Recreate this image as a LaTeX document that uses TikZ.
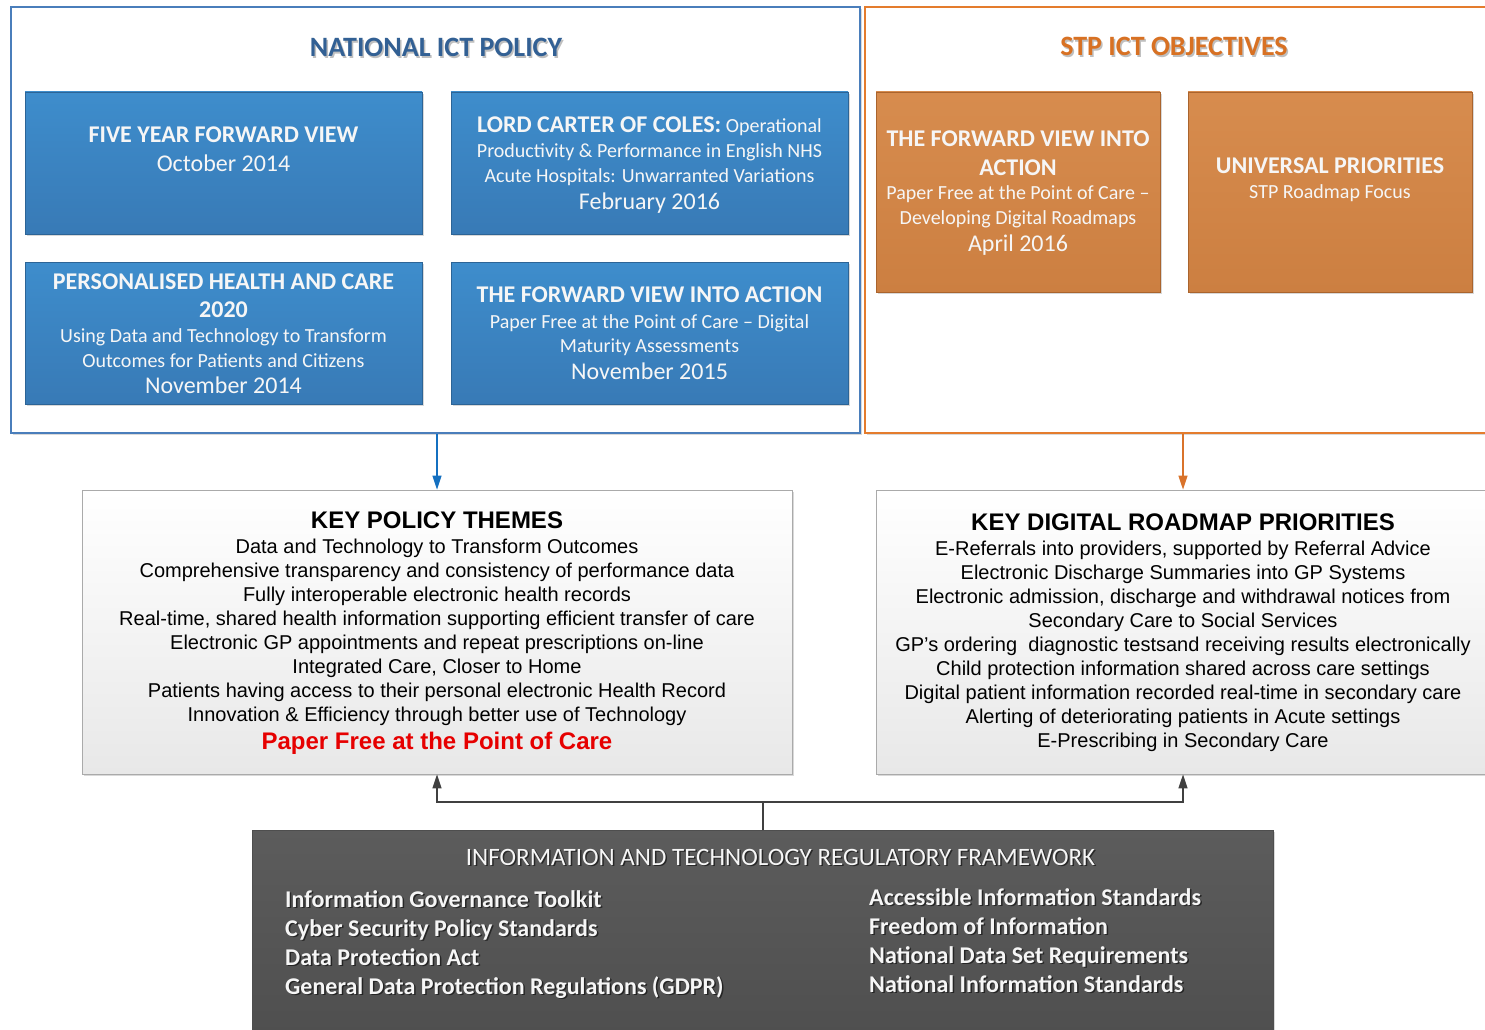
\documentclass[tikz,border=0pt]{standalone}
\usepackage{fontspec}
\setmainfont{Carlito}
\newfontfamily\arialfont{Liberation Sans}
\usetikzlibrary{arrows.meta,shadows}

\definecolor{natedge}{RGB}{74,126,187}
\definecolor{nattitle}{RGB}{50,96,148}
\definecolor{stpedge}{RGB}{228,124,45}
\definecolor{stptitle}{RGB}{216,113,35}
\definecolor{bluetop}{RGB}{62,141,204}
\definecolor{bluebot}{RGB}{56,122,182}
\definecolor{blueedge}{RGB}{44,100,150}
\definecolor{orgtop}{RGB}{215,140,78}
\definecolor{orgbot}{RGB}{204,127,65}
\definecolor{orgedge}{RGB}{170,100,45}
\definecolor{arrblue}{RGB}{20,112,192}
\definecolor{arrorange}{RGB}{217,115,43}
\definecolor{greyedge}{RGB}{170,170,170}
\definecolor{greybot}{RGB}{232,232,232}
\definecolor{darktop}{RGB}{92,92,92}
\definecolor{darkbot}{RGB}{78,78,78}
\definecolor{conn}{RGB}{64,64,64}
\definecolor{boxtext}{RGB}{246,246,246}
\definecolor{redtext}{RGB}{230,0,0}

\newcommand{\fs}[1]{\fontsize{#1}{#1}\selectfont}

\tikzset{
  softshadow/.style={drop shadow={shadow xshift=2pt, shadow yshift=-2pt, opacity=0.3}},
  panel/.style={draw, line width=1.8pt, fill=white, softshadow},
  bluebox/.style={draw=blueedge, line width=0.6pt, top color=bluetop, bottom color=bluebot, softshadow},
  orgbox/.style={draw=orgedge, line width=0.6pt, top color=orgtop, bottom color=orgbot, softshadow},
  greybox/.style={draw=greyedge, line width=0.8pt, top color=white, bottom color=greybot, softshadow},
  darkbox/.style={draw=darkbot, line width=0.6pt, top color=darktop, bottom color=darkbot, softshadow},
  ln/.style={anchor=base, inner sep=0pt},
  hd/.style={ln, font=\fs{24}\bfseries, text=boxtext},
  sb/.style={ln, font=\fs{20}, text=boxtext},
  dt/.style={ln, font=\fs{24}, text=boxtext},
  ptitle/.style={ln, font=\fs{28}\bfseries},
  ktitle/.style={ln, font=\arialfont\fs{24}\bfseries},
  kline/.style={ln, font=\arialfont\fs{20}},
  ftitle/.style={ln, font=\fs{25}, text=boxtext},
  fitem/.style={ln, anchor=base west, font=\fs{24}\bfseries, text=boxtext},
  shade/.style={text=black, opacity=0.55},
  arr/.style={line width=1.4pt, -{Triangle[length=14pt,width=9pt]}},
  connline/.style={draw=conn, line width=1.3pt},
}

\begin{document}
\begin{tikzpicture}[x=1pt,y=-1pt]
\useasboundingbox (0,0) rectangle (1485,1030);
\clip (0,0) rectangle (1485,1030);

% ---- outer panels ----
\node[panel, draw=natedge, minimum width=849pt, minimum height=426pt] (nat) at (435.5,220) {};
\node[panel, draw=stpedge, minimum width=638pt, minimum height=426pt] (stp) at (1184,220) {};

\node[ptitle, text=black!25] (nat-s) at (437.5,58.5) {NATIONAL ICT POLICY};
\node[ptitle, text=nattitle] (nat-t) at (436,57) {NATIONAL ICT POLICY};
\node[ptitle, text=black!25] (stp-s) at (1175.5,57.5) {STP ICT OBJECTIVES};
\node[ptitle, text=stptitle] (stp-t) at (1174,56) {STP ICT OBJECTIVES};

% ---- national policy documents ----
\node[bluebox, minimum width=397pt, minimum height=142pt] (fyfv) at (223.5,163) {};
\node[hd] (fyfv-1) at (223.5,142.5) {FIVE YEAR FORWARD VIEW};
\node[dt] (fyfv-2) at (223.5,171.5) {October 2014};

\node[bluebox, minimum width=397pt, minimum height=142pt] (lcc) at (649.5,163) {};
\node[ln, text=boxtext] (lcc-1) at (649.5,132.5) {{\fs{24}\bfseries LORD CARTER OF COLES:}{\fs{20} Operational}};
\node[sb] (lcc-2) at (649.5,157.5) {Productivity \& Performance in English NHS};
\node[sb] (lcc-3) at (649.5,182) {Acute Hospitals: Unwarranted Variations};
\node[dt] (lcc-4) at (649.5,209) {February 2016};

\node[bluebox, minimum width=397pt, minimum height=142pt] (phc) at (223.5,333) {};
\node[hd] (phc-1) at (223.5,289) {PERSONALISED HEALTH AND CARE};
\node[hd] (phc-2) at (223.5,317) {2020};
\node[sb] (phc-3) at (223.5,342.5) {Using Data and Technology to Transform};
\node[sb] (phc-4) at (223.5,367) {Outcomes for Patients and Citizens};
\node[dt] (phc-5) at (223.5,393.5) {November 2014};

\node[bluebox, minimum width=397pt, minimum height=142pt] (fvia) at (649.5,333) {};
\node[hd] (fvia-1) at (649.5,302.5) {THE FORWARD VIEW INTO ACTION};
\node[sb] (fvia-2) at (649.5,328.5) {Paper Free at the Point of Care – Digital};
\node[sb] (fvia-3) at (649.5,352.5) {Maturity Assessments};
\node[dt] (fvia-4) at (649.5,379) {November 2015};

% ---- STP objectives ----
\node[orgbox, minimum width=284pt, minimum height=200pt] (fvr) at (1018,192) {};
\node[hd] (fvr-1) at (1018,146.7) {THE FORWARD VIEW INTO};
\node[hd] (fvr-2) at (1018,175) {ACTION};
\node[sb] (fvr-3) at (1018,199.5) {Paper Free at the Point of Care –};
\node[sb] (fvr-4) at (1018,224.5) {Developing Digital Roadmaps};
\node[dt] (fvr-5) at (1018,251.5) {April 2016};

\node[orgbox, minimum width=284pt, minimum height=200pt] (up) at (1330,192) {};
\node[hd] (up-1) at (1330,173) {UNIVERSAL PRIORITIES};
\node[sb] (up-2) at (1330,198.5) {STP Roadmap Focus};

% ---- themes and priorities ----
\node[greybox, minimum width=710pt, minimum height=284pt] (kpt) at (437,632) {};
\node[ktitle] (kpt-t) at (437,528.5) {KEY POLICY THEMES};
\node[kline] (kpt-1) at (437,553) {Data and Technology to Transform Outcomes};
\node[kline] (kpt-2) at (437,577) {Comprehensive transparency and consistency of performance data};
\node[kline] (kpt-3) at (437,601) {Fully interoperable electronic health records};
\node[kline] (kpt-4) at (437,625) {Real-time, shared health information supporting efficient transfer of care};
\node[kline] (kpt-5) at (437,649) {Electronic GP appointments and repeat prescriptions on-line};
\node[kline] (kpt-6) at (437,673) {Integrated Care, Closer to Home};
\node[kline] (kpt-7) at (437,697) {Patients having access to their personal electronic Health Record};
\node[kline] (kpt-8) at (437,721) {Innovation \& Efficiency through better use of Technology};
\node[ktitle, text=redtext] (kpt-9) at (437,749.5) {Paper Free at the Point of Care};

\node[greybox, minimum width=614pt, minimum height=284pt] (kdr) at (1183,632) {};
\node[ktitle] (kdr-t) at (1183,530.5) {KEY DIGITAL ROADMAP PRIORITIES};
\node[kline] (kdr-1) at (1183,555) {E-Referrals into providers, supported by Referral Advice};
\node[kline] (kdr-2) at (1183,579) {Electronic Discharge Summaries into GP Systems};
\node[kline] (kdr-3) at (1183,603) {Electronic admission, discharge and withdrawal notices from};
\node[kline] (kdr-4) at (1183,627) {Secondary Care to Social Services};
\node[kline] (kdr-5) at (1183,651) {GP’s ordering\ \ diagnostic testsand receiving results electronically};
\node[kline] (kdr-6) at (1183,675) {Child protection information shared across care settings};
\node[kline] (kdr-7) at (1183,699) {Digital patient information recorded real-time in secondary care};
\node[kline] (kdr-8) at (1183,723) {Alerting of deteriorating patients in Acute settings};
\node[kline] (kdr-9) at (1183,747) {E-Prescribing in Secondary Care};

% ---- regulatory framework ----
\node[darkbox, minimum width=1021pt, minimum height=220pt] (irf) at (762.5,940) {};
\node[ftitle, shade] (irf-ts) at (782,866.5) {INFORMATION AND TECHNOLOGY REGULATORY FRAMEWORK};
\node[ftitle] (irf-t) at (780.5,865) {INFORMATION AND TECHNOLOGY REGULATORY FRAMEWORK};

\foreach \name/\yy/\txt in {a/907/Information Governance Toolkit,
                            b/936/Cyber Security Policy Standards,
                            c/965/Data Protection Act,
                            d/994/General Data Protection Regulations (GDPR)} {
  \node[fitem, shade] (irf-\name s) at (286.5,\yy+1.5) {\txt};
  \node[fitem] (irf-\name) at (285,\yy) {\txt};
}
\foreach \name/\yy/\txt in {e/905/Accessible Information Standards,
                            f/934/Freedom of Information,
                            g/963/National Data Set Requirements,
                            h/992/National Information Standards} {
  \node[fitem, shade] (irf-\name s) at (870.5,\yy+1.5) {\txt};
  \node[fitem] (irf-\name) at (869,\yy) {\txt};
}

% ---- connectors ----
\draw[arr, draw=arrblue] (nat.south -| kpt.north) -- (kpt.north);
\draw[arr, draw=arrorange] (stp.south -| kdr.north) -- (kdr.north);

\coordinate (split) at (763,802);
\draw[connline] (irf.north -| split) -- (split);
\draw[connline, arr] (split) -| (kpt.south);
\draw[connline, arr] (split) -| (kdr.south);
\end{tikzpicture}
\end{document}
